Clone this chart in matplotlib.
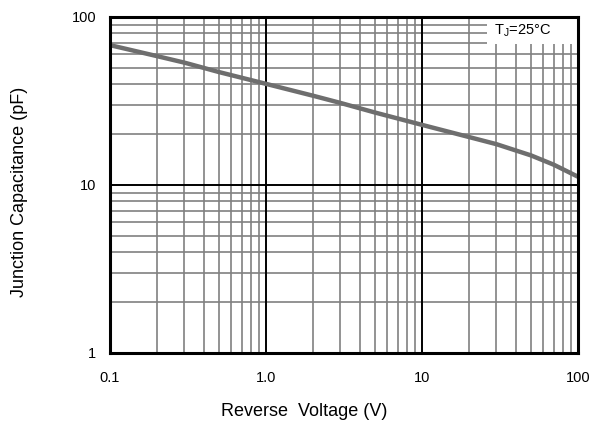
import matplotlib.pyplot as plt
from matplotlib.patches import Rectangle
from matplotlib.ticker import FixedLocator, NullFormatter

plt.rcParams['font.family'] = ['Liberation Sans', 'DejaVu Sans']

# Curve (reverse voltage V, capacitance pF)
voltage = [0.1, 0.2, 0.3, 0.5, 1.0, 2.0, 3.0, 5.0, 10.0, 20.0, 30.0, 50.0, 70.0, 100.0]
capacitance = [68.0, 58.5, 53.5, 47.0, 40.0, 34.0, 30.8, 27.0, 22.8, 19.3, 17.5, 15.0, 13.2, 11.2]

x_ticks = [0.1, 1.0, 10, 100]
x_labels = ['0.1', '1.0', '10', '100']
y_ticks = [1, 10, 100]
y_labels = ['1', '10', '100']

fig = plt.figure(figsize=(6.02, 4.28), dpi=100)
ax = fig.add_axes([110 / 602, 1 - 353 / 428, 468 / 602, 336 / 428])

ax.set_xscale('log')
ax.set_yscale('log')
ax.set_xlim(0.1, 100)
ax.set_ylim(1, 100)

# minor grid (2..9 in each decade)
minor_x = [m * d for d in (0.1, 1, 10) for m in range(2, 10)]
minor_y = [m * d for d in (1, 10) for m in range(2, 10)]
for v in minor_x:
    ax.axvline(v, color='#808080', lw=1.2, zorder=1)
for v in minor_y:
    ax.axhline(v, color='#808080', lw=1.2, zorder=1)
# decade lines
for v in (1.0, 10):
    ax.axvline(v, color='black', lw=1.4, zorder=1)
ax.axhline(10, color='black', lw=1.4, zorder=1)

ax.plot(voltage, capacitance, color='#6e6e6e', lw=3.2, solid_capstyle='butt', zorder=3)

ax.xaxis.set_major_locator(FixedLocator(x_ticks))
ax.set_xticklabels(x_labels)
ax.yaxis.set_major_locator(FixedLocator(y_ticks))
ax.set_yticklabels(y_labels)
ax.xaxis.set_minor_formatter(NullFormatter())
ax.yaxis.set_minor_formatter(NullFormatter())
ax.tick_params(which='both', length=0)
ax.tick_params(axis='x', pad=13, labelsize=10.5)
ax.tick_params(axis='y', pad=10, labelsize=10.5)

for s in ax.spines.values():
    s.set_linewidth(2.2)
    s.set_zorder(5)

fig.text(304 / 602, 1 - 411 / 428, 'Reverse  Voltage (V)', fontsize=13,
         ha='center', va='center')
fig.text(20 / 602, 1 - 192 / 428, 'Junction Capacitance (pF)', fontsize=13,
         ha='center', va='center', rotation=90)

# white label box covering the grid in the top-right corner
ax.add_patch(Rectangle((0.806, 0.92), 0.194, 0.08, transform=ax.transAxes,
                       facecolor='white', edgecolor='none', zorder=4))
ax.text(0.8205, 0.949, 'T$_\\mathregular{J}$=25\u00b0C', transform=ax.transAxes,
        ha='left', va='baseline', fontsize=10.5, zorder=4.5)

fig.savefig('out.png', dpi=100)
